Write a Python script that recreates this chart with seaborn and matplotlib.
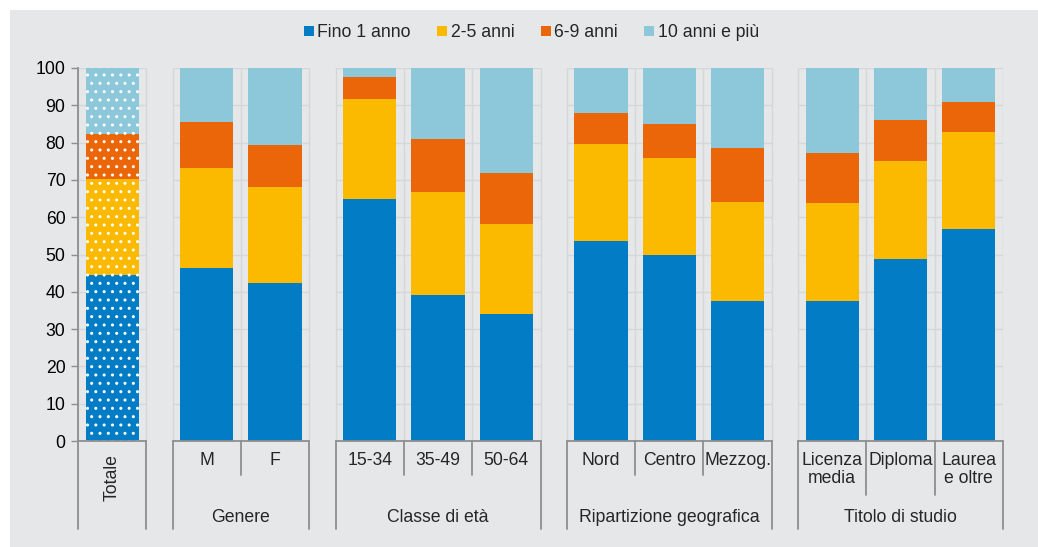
import pandas as pd
import matplotlib.pyplot as plt
import matplotlib.transforms as mtransforms
from matplotlib.patches import Patch, Rectangle
import seaborn as sns

# data (percent shares, each bar sums to 100)
categories = ["Totale", "M", "F", "15-34", "35-49", "50-64",
              "Nord", "Centro", "Mezzog.", "Licenza\nmedia", "Diploma", "Laurea\ne oltre"]
group_names = ["", "Genere", "Classe di età", "Ripartizione geografica", "Titolo di studio"]
group_sizes = [1, 2, 3, 3, 3]

fino_1 = [44.4, 46.3, 42.4, 65.0, 39.1, 34.0, 53.5, 49.9, 37.5, 37.5, 48.9, 56.9]
anni_2_5 = [25.9, 26.9, 25.6, 26.6, 27.6, 24.3, 26.2, 26.1, 26.5, 26.4, 26.2, 25.9]
anni_6_9 = [12.1, 12.3, 11.4, 6.1, 14.2, 13.6, 8.3, 9.1, 14.5, 13.4, 11.0, 8.1]
anni_10 = [17.6, 14.5, 20.6, 2.3, 19.1, 28.1, 12.0, 14.9, 21.5, 22.7, 13.9, 9.1]

series_names = ["Fino 1 anno", "2-5 anni", "6-9 anni", "10 anni e più"]
colors = ["#027CC4", "#FBBA00", "#EB6608", "#8CC8DA"]
bg = "#E6E7E9"
grid_col = "#D6D7D9"
line_col = "#8E8E8E"
fs = 12.7

sns.set_theme(style="white")
plt.rcParams["font.family"] = ["Liberation Sans", "DejaVu Sans"]
plt.rcParams["hatch.color"] = "white"

# x positions: one unit per category, a gap between groups
gap = 0.385
pos = []
group_start = []
start = 0.0
for size in group_sizes:
    group_start.append(start)
    for i in range(size):
        pos.append(start + i + 0.5)
    start += size + gap
x_end = group_start[-1] + group_sizes[-1]

df = pd.DataFrame({"pos": pos, "cat": categories,
                   series_names[0]: fino_1, series_names[1]: anni_2_5,
                   series_names[2]: anni_6_9, series_names[3]: anni_10})
cum = df[series_names].cumsum(axis=1)

fig = plt.figure(figsize=(10.38, 5.47), dpi=100)
fig.patch.set_facecolor("white")
fig.add_artist(Rectangle((10 / 1038, 0), 1, 1 - 10 / 547, transform=fig.transFigure,
                         facecolor=bg, edgecolor="none", zorder=-10))
ax = fig.add_axes([78 / 1038, 1 - 441 / 547, (1003 - 78) / 1038, (441 - 68) / 547])
ax.set_facecolor("none")

# stacked bars: draw cumulative tops from the highest layer down
for name, col in reversed(list(zip(series_names, colors))):
    n_before = len(ax.patches)
    sns.barplot(x=df["pos"], y=cum[name], native_scale=True, color=col,
                width=0.78, errorbar=None, linewidth=0, saturation=1, ax=ax, zorder=2)
    for p in ax.patches[n_before:]:
        if p.get_x() + p.get_width() / 2 < 1:
            p.set_hatch("..")
            p.set_edgecolor("white")
            p.set_linewidth(0)

ax.set_xlim(0, x_end)
ax.set_ylim(0, 100)
ax.set_yticks(range(0, 101, 10))
ax.set_xticks([])
ax.set_xlabel("")
ax.set_ylabel("")
for s in ["top", "right", "bottom"]:
    ax.spines[s].set_visible(False)
ax.spines["left"].set_color(line_col)
ax.spines["left"].set_linewidth(1.3)
ax.tick_params(axis="y", left=True, length=5, width=1, color=line_col,
               labelsize=fs, labelcolor="black", pad=4)

# gridlines within each panel
trans = mtransforms.blended_transform_factory(ax.transData, ax.transAxes)
k = 0
for gs, size, gname in zip(group_start, group_sizes, group_names):
    ax.hlines(range(10, 101, 10), gs, gs + size, color=grid_col, lw=1, zorder=0)
    for j in range(size + 1):
        ax.vlines(gs + j, 0, 100, color=grid_col, lw=1, zorder=0)
    # category table under the axis
    ax.plot([gs, gs + size], [0, 0], color=line_col, lw=1.3, clip_on=False, zorder=3)
    for edge in (gs, gs + size):
        ax.plot([edge, edge], [0, -0.236], color=line_col, lw=1.3,
                transform=trans, clip_on=False)
    two_line = any("\n" in c for c in categories[k:k + size])
    sep_bottom = -0.145 if two_line else -0.091
    for j in range(1, size):
        ax.plot([gs + j, gs + j], [0, sep_bottom], color=line_col, lw=1.3,
                transform=trans, clip_on=False)
    for j in range(size):
        lab = categories[k + j]
        if size == 1:
            ax.text(gs + 0.5, -0.099, lab, rotation=90, ha="center", va="center",
                    fontsize=fs, transform=trans)
        else:
            ax.text(gs + j + 0.5, -0.03, lab, ha="center", va="top",
                    fontsize=fs, transform=trans, linespacing=1.1)
    if gname:
        ax.text(gs + size / 2, -0.204, gname, ha="center", va="center",
                fontsize=fs, transform=trans)
    k += size

handles = [Patch(facecolor=c, edgecolor="none", label=n) for n, c in zip(series_names, colors)]
fig.legend(handles=handles, loc="center", bbox_to_anchor=(0.512, 0.94), ncol=4,
           frameon=False, fontsize=fs, handlelength=0.55, handleheight=0.55,
           handletextpad=0.2, columnspacing=1.5)

fig.savefig("out.png", dpi=100, facecolor=fig.get_facecolor())
